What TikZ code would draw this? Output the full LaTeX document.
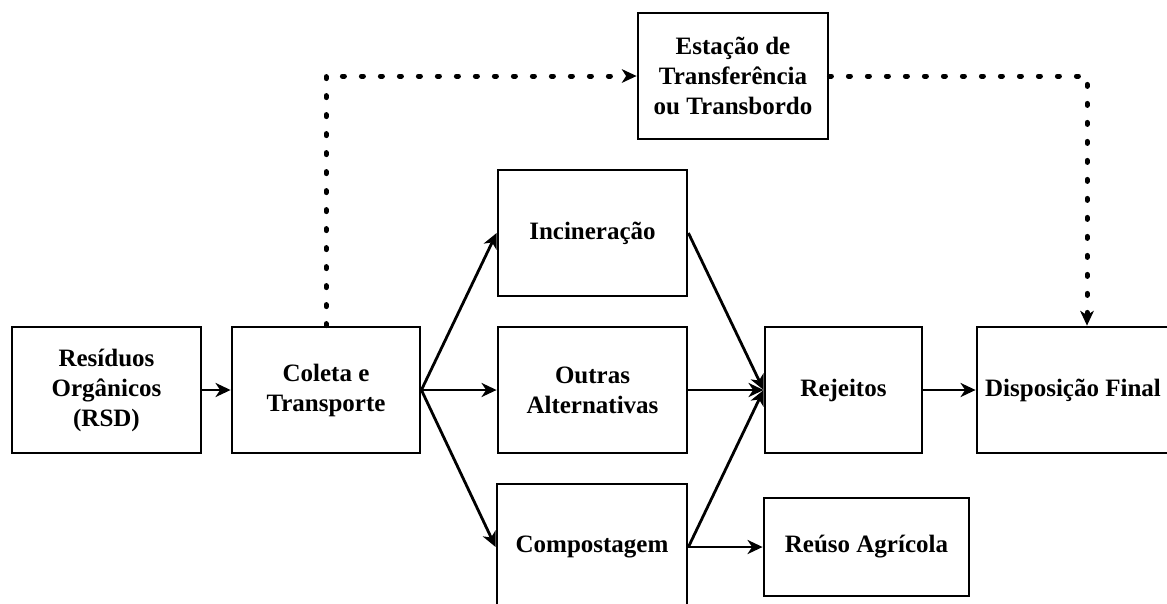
\documentclass[tikz,border=0pt]{standalone}
\usepackage{fontspec}
\setmainfont{Liberation Serif}
\usetikzlibrary{arrows.meta}
\begin{document}
\begin{tikzpicture}[x=1pt,y=-1pt,
  box/.style={draw, line width=2.8pt, inner sep=0pt, align=center,
    font=\bfseries\fontsize{25}{30}\selectfont, minimum height=126pt},
  arr/.style={line width=2.8pt, -{Stealth[length=15pt,width=14pt,inset=4.5pt]}},
  dotarr/.style={line width=5pt, line cap=round, dash pattern=on 2pt off 17pt,
    -{Stealth[length=15pt,width=14pt,inset=4.5pt,line width=0pt]}}]
\useasboundingbox (0,0) rectangle (1167,603);
\clip (0,0) rectangle (1167,603);
\node[box, minimum width=189pt] (res) at (106.5,390) {Resíduos\\Orgânicos\\(RSD)};
\node[box, minimum width=188pt] (col) at (326,390) {Coleta e\\Transporte};
\node[box, minimum width=189pt] (inc) at (592.5,233) {Incineração};
\node[box, minimum width=189pt] (out) at (592.5,390) {Outras\\Alternativas};
\node[box, minimum width=190pt] (comp) at (592,547) {Compostagem};
\node[box, minimum width=157pt] (rej) at (843.5,390) {Rejeitos};
\node[box, minimum width=192pt] (disp) at (1073,390) {Disposição Final};
\node[box, minimum width=190pt] (est) at (733,76) {Estação de\\Transferência\\ou Transbordo};
\node[box, minimum width=205pt, minimum height=98pt] (reu) at (866.5,547) {Reúso Agrícola};
\coordinate (c1) at (1087,76);
\draw[arr] (res.east) -- (col.west);
\draw[arr] (col.east) -- (inc.west);
\draw[arr] (col.east) -- (out.west);
\draw[arr] (col.east) -- (comp.west);
\draw[arr] (inc.east) -- (rej.west);
\draw[arr] (out.east) -- (rej.west);
\draw[arr] (comp.east) -- (rej.west);
\draw[arr] (comp.east) -- (reu.west);
\draw[arr] (rej.east) -- (disp.west);
\draw[dotarr] (col.north) -- (col.north |- est.west) -- (est.west);
\draw[dotarr] (est.east) -- (c1) -- (c1 |- disp.north);
\end{tikzpicture}
\end{document}
